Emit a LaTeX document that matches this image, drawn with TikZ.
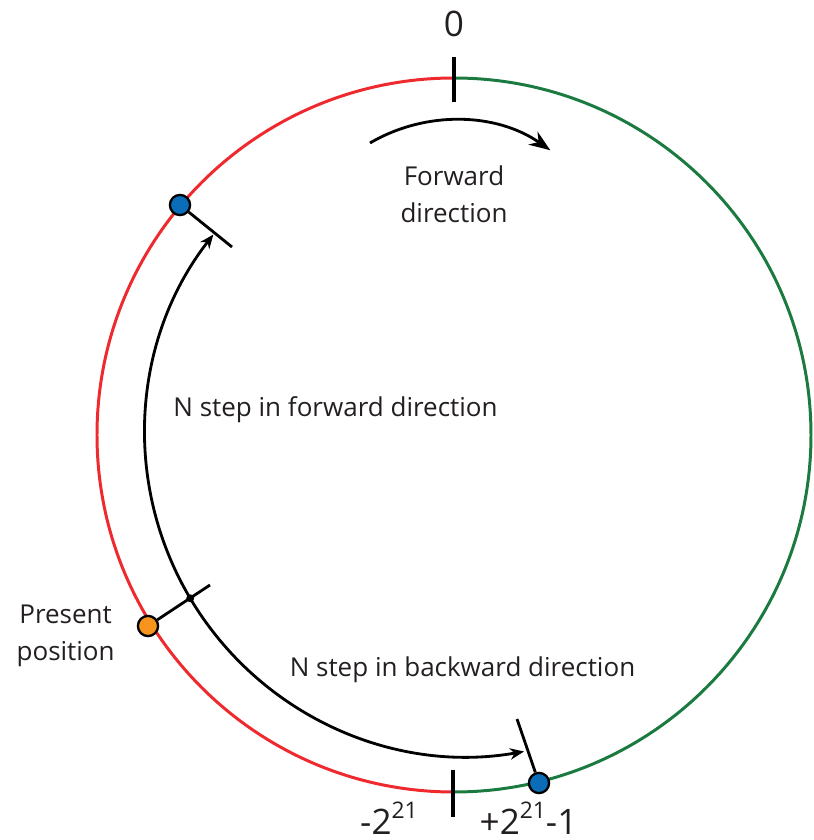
\documentclass[tikz,border=0pt]{standalone}
\usepackage{fontspec}
\setmainfont{Open Sans}
\usetikzlibrary{arrows.meta}
\definecolor{ringred}{HTML}{EE2A2F}
\definecolor{ringgreen}{HTML}{1A7A40}
\definecolor{dotblue}{HTML}{0B6DB7}
\definecolor{dotorange}{HTML}{F7941D}
\definecolor{inktext}{HTML}{231F20}
% raised exponent for the range limits
\newcommand\supdigits[1]{\raisebox{9pt}{\fontsize{13}{13}\selectfont #1}}
\tikzset{
  ring/.style={line width=1.7pt},
  tickmark/.style={line width=2.8pt},
  stepline/.style={line width=1.6pt},
  pointer/.style={line width=1.6pt},
  posdot/.style={circle, draw=black, line width=1.3pt, minimum size=11.5pt, inner sep=0pt},
  jdot/.style={circle, fill=black, minimum size=4.5pt, inner sep=0pt},
  label/.style={font=\fontsize{14.8}{21}\selectfont, text=inktext, inner sep=0pt},
  biglabel/.style={font=\fontsize{20}{24}\selectfont, text=inktext, inner sep=0pt},
}
\begin{document}
\begin{tikzpicture}[x=0.02cm, y=0.02cm]
\useasboundingbox (0,0) rectangle (814,840);

% the ring: left half red, right half green
\coordinate (O) at (454,405);
\draw[ring, ringred] (454,762) arc[start angle=90, end angle=270, radius=357];
\draw[ring, ringgreen] (454,48) arc[start angle=-90, end angle=90, radius=357];

% tick marks at 0 and at the wrap-around point
\coordinate (t0a) at (454,783);
\coordinate (t0b) at (454,738);
\coordinate (t1a) at (453,70);
\coordinate (t1b) at (453,23);
\draw[tickmark] (t0a) -- (t0b);
\draw[tickmark] (t1a) -- (t1b);

% forward direction arrow
\coordinate (fwdstart) at (370,697);
\draw[stepline, -{Stealth[length=12pt, width=9pt]}] (fwdstart)
  arc[start angle=120.4, end angle=55, radius=167];

% positions on the ring
\node[posdot, fill=dotblue] (bluetop) at (180,635) {};
\node[posdot, fill=dotblue] (bluebot) at (539,57) {};
\node[posdot, fill=dotorange] (present) at (148,214) {};

\coordinate (bluetopend) at (232,593);
\coordinate (bluebotend) at (517,121);
\coordinate (presentend) at (210,255);
\draw[pointer] (bluetop) -- (bluetopend);
\draw[pointer] (bluebot) -- (bluebotend);
\draw[pointer] (present) -- (presentend);

% N steps forward and backward from the present position
\coordinate (J) at (190.2,241.7);
\draw[stepline, -{Stealth[length=8pt, width=6.5pt]}] (J)
  arc[start angle=210.7, end angle=142, radius=323];
\draw[stepline, -{Stealth[length=8pt, width=6.5pt]}] (J)
  arc[start angle=210.7, end angle=280, radius=323];
\node[jdot] (junction) at (J) {};

% labels
\node[biglabel, anchor=base] (zero) at (454,803) {0};
\node[biglabel, anchor=base] (minlabel) at (389,6) {-2\supdigits{21}};
\node[biglabel, anchor=base] (maxlabel) at (528.5,6) {+2\supdigits{21}-1};
\node[label, align=center] (fwdlabel) at (454,646) {Forward\\direction};
\node[label, anchor=base] (nfwd) at (335.5,423) {N step in forward direction};
\node[label, anchor=base] (nbwd) at (462.5,163) {N step in backward direction};
\node[label, align=center, anchor=east] (preslabel) at (115,204) {Present\\position};
\end{tikzpicture}
\end{document}
